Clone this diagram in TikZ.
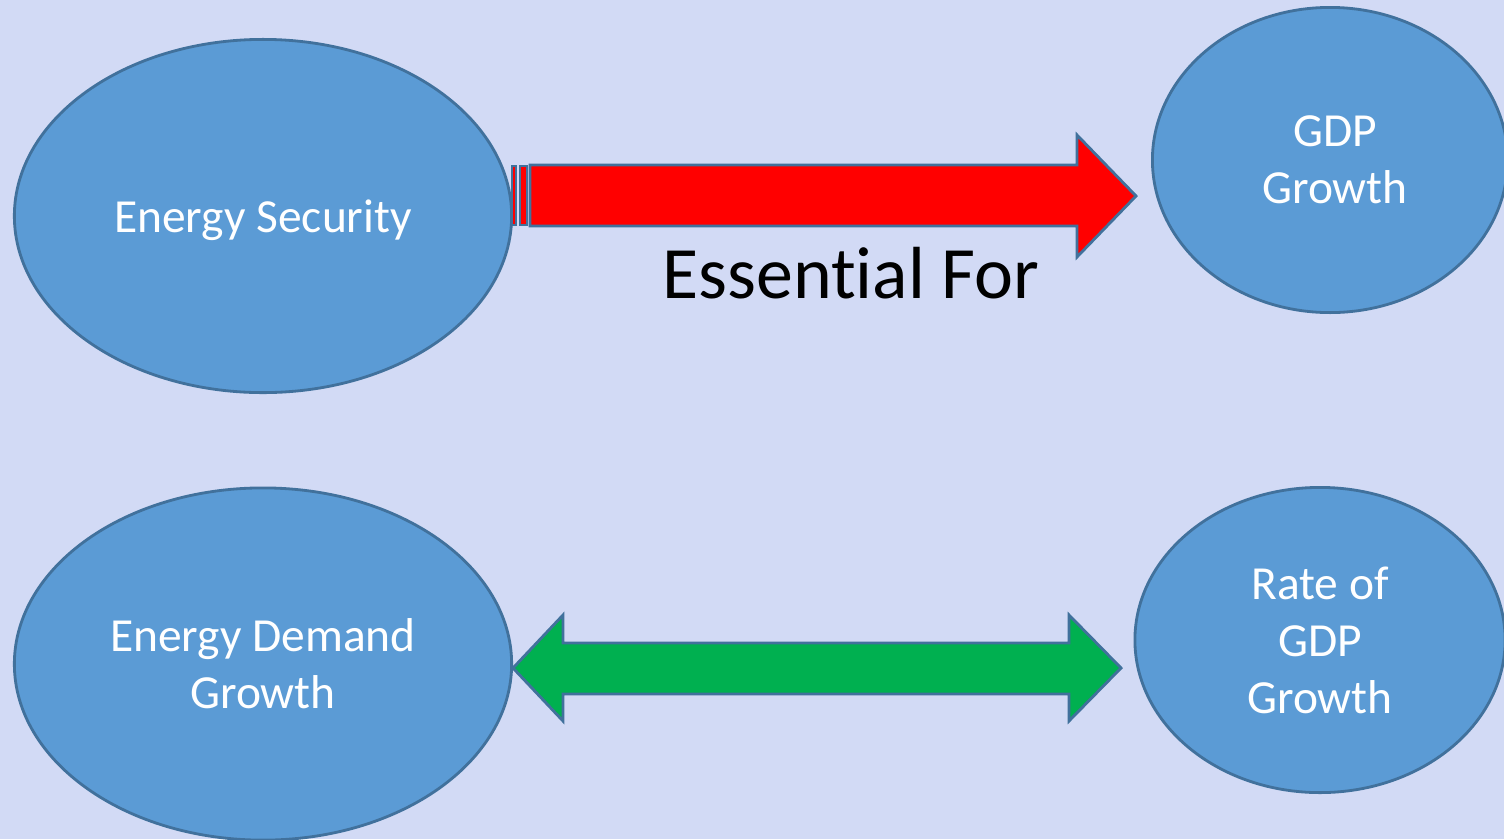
\documentclass[tikz,border=0pt]{standalone}
\usepackage{fontspec}
\setmainfont{Carlito}[RawFeature={-liga;-clig}]
\usetikzlibrary{shapes.geometric}
\definecolor{bgc}{RGB}{210,218,245}
\definecolor{ellfill}{RGB}{91,155,213}
\definecolor{ellline}{RGB}{65,113,156}
\definecolor{arrred}{RGB}{255,0,0}
\definecolor{arrgreen}{RGB}{0,176,80}
\tikzset{
  bubble/.style={ellipse, draw=ellline, fill=ellfill, line width=0.8pt, inner sep=0pt,
    text=white, align=center, font=\fontsize{13.5}{16.2}\selectfont},
  blockarrow/.style={draw=ellline, line width=0.8pt, line join=miter},
}
\begin{document}
\begin{tikzpicture}[x=0.01cm,y=-0.01cm]
\useasboundingbox (0,0) rectangle (1504,839);
\clip (0,0) rectangle (1504,839);
\fill[bgc] (0,0) rectangle (1504,839);
\node[bubble, minimum width=4.97cm, minimum height=3.53cm, text depth=-2pt] (es) at (263,216) {Energy Security};
\node[bubble, minimum width=3.55cm, minimum height=3.05cm] (gdp) at (1330,160) {\hspace*{0.1cm}GDP\\\hspace*{0.1cm}Growth};
\node[bubble, minimum width=4.97cm, minimum height=3.52cm] (edg) at (263,664) {Energy Demand\\Growth};
\node[bubble, minimum width=3.70cm, minimum height=3.05cm] (rgdp) at (1320,640) {Rate of\\GDP\\Growth};
% red striped arrow
\draw[blockarrow, fill=arrred] (512,166) rectangle (516,225);
\draw[blockarrow, fill=arrred] (520,166) rectangle (527,225);
\draw[blockarrow, fill=arrred] (530,165) -- (1077,165) -- (1077,135) -- (1136,196) -- (1077,257) -- (1077,226) -- (530,226) -- cycle;
\node[font=\fontsize{21}{25}\selectfont, text=black, inner sep=0pt] (lbl) at (851,273) {Essent\kern0pt ial For};
% green double arrow
\draw[blockarrow, fill=arrgreen] (513,668) -- (563,615) -- (563,643) -- (1069,643) -- (1069,615) -- (1121,668) -- (1069,721) -- (1069,694) -- (563,694) -- (563,721) -- cycle;
\end{tikzpicture}
\end{document}
